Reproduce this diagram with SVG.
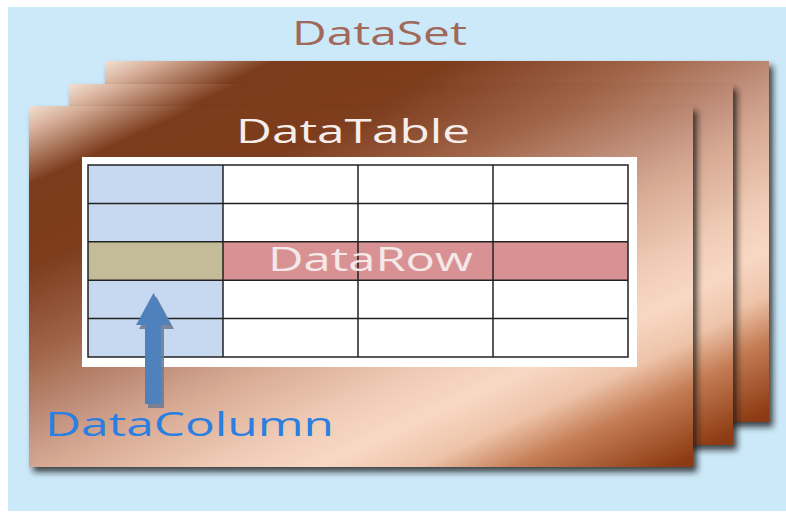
<svg xmlns="http://www.w3.org/2000/svg" width="786" height="516" viewBox="0 0 786 516">
  <defs>
    <linearGradient id="cardGrad" gradientUnits="userSpaceOnUse" x1="29" y1="106" x2="280" y2="649">
      <stop offset="0" stop-color="#f3e0d4"/>
      <stop offset="0.04" stop-color="#d6ae98"/>
      <stop offset="0.12" stop-color="#7b3b1c"/>
      <stop offset="0.25" stop-color="#7e3e1f"/>
      <stop offset="0.38" stop-color="#a06448"/>
      <stop offset="0.5" stop-color="#c49480"/>
      <stop offset="0.56" stop-color="#d8aa94"/>
      <stop offset="0.68" stop-color="#f0ccb6"/>
      <stop offset="0.75" stop-color="#f8d8c4"/>
      <stop offset="0.82" stop-color="#eec4aa"/>
      <stop offset="0.89" stop-color="#c47c54"/>
      <stop offset="1" stop-color="#8c3a12"/>
    </linearGradient>
    <filter id="cardShadow" x="-5%" y="-5%" width="112%" height="115%">
      <feDropShadow dx="4" dy="5" stdDeviation="3" flood-color="#151515" flood-opacity="0.8"/>
    </filter>
    <style>
      .card { fill: url(#cardGrad); filter: url(#cardShadow); }
      .grid { stroke: #222; stroke-width: 1.5; fill: none; }
      .lbl { font-family: "Open Sans", "DejaVu Sans", sans-serif; font-size: 33px; font-weight: 500; }
    </style>
  </defs>

  <rect id="background" x="8" y="7" width="778" height="504" fill="#cce9f9"/>

  <g id="dataset">
    <text class="lbl" x="292" y="45" textLength="175" lengthAdjust="spacingAndGlyphs" fill="#a0695a">DataSet</text>
  </g>

  <g id="card-back">
    <rect class="card" x="29" y="106" width="664" height="361" transform="translate(76,-45)"/>
  </g>
  <g id="card-middle">
    <rect class="card" x="29" y="106" width="664" height="361" transform="translate(40,-22)"/>
  </g>

  <g id="datatable">
    <rect class="card" x="29" y="106" width="664" height="361"/>
    <text class="lbl" x="236" y="143" textLength="234" lengthAdjust="spacingAndGlyphs" fill="#f6eeea">DataTable</text>
    <rect x="82" y="157" width="555" height="210" fill="#ffffff"/>
    <rect x="88" y="165" width="540" height="192" fill="#ffffff"/>
    <rect x="88" y="165" width="135" height="192" fill="#c6d9f0"/>
    <rect x="88" y="241.8" width="135" height="38.4" fill="#c4bc98"/>
    <rect x="223" y="241.8" width="405" height="38.4" fill="#d99294"/>
    <path class="grid" d="M88,165H628V357H88Z M88,203.4H628 M88,241.8H628 M88,280.2H628 M88,318.6H628 M223,165V357 M358,165V357 M493,165V357"/>
  </g>

  <g id="datarow">
    <text class="lbl" x="268" y="271" textLength="205" lengthAdjust="spacingAndGlyphs" fill="#f4e8e8">DataRow</text>
  </g>

  <g id="connectors">
    <polygon points="156.5,297 174,329 164,329 164,408 148,408 148,329 139,329" fill="#707c90" opacity="0.9"/>
    <polygon points="153.5,293 171,325 161,325 161,404 145,404 145,325 136,325" fill="#4f81bd"/>
  </g>

  <g id="datacolumn">
    <text class="lbl" x="45" y="436" textLength="289" lengthAdjust="spacingAndGlyphs" fill="#2a7fe0">DataColumn</text>
  </g>
</svg>
